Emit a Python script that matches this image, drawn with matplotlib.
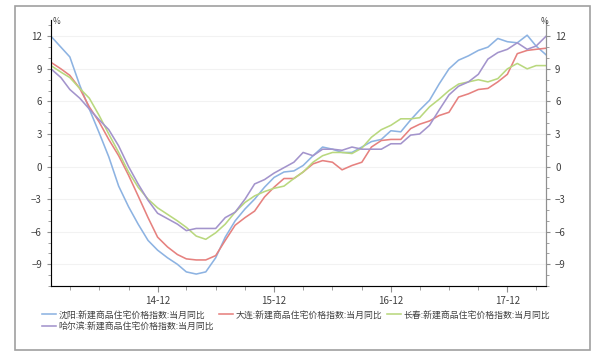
import numpy as np
import pandas as pd
import matplotlib
matplotlib.use("Agg")
import matplotlib.pyplot as plt
import matplotlib.dates as mdates
from matplotlib.patches import Rectangle

plt.rcParams['font.family'] = ['Noto Sans CJK SC', 'DejaVu Sans']

# monthly data, 2014-01 .. 2018-04
months = pd.date_range('2014-01-01', periods=52, freq='MS')

shenyang = [12.0, 11.0, 10.1, 7.5, 5.3, 3.1, 0.9, -1.8, -3.7, -5.3, -6.8, -7.7,
            -8.4, -9.0, -9.7, -9.9, -9.7, -8.4, -6.5, -5.0, -3.9, -3.0, -1.9, -1.0,
            -0.5, -0.4, 0.1, 1.0, 1.8, 1.6, 1.3, 1.3, 1.8, 2.3, 2.5, 3.3,
            3.2, 4.3, 5.2, 6.1, 7.6, 9.0, 9.8, 10.2, 10.7, 11.0, 11.8, 11.5,
            11.4, 12.1, 11.1, 10.3]
dalian = [9.6, 9.0, 8.4, 7.2, 5.5, 4.1, 2.5, 1.0, -0.8, -2.7, -4.7, -6.5,
          -7.4, -8.1, -8.5, -8.6, -8.6, -8.2, -6.8, -5.4, -4.7, -4.1, -2.8, -1.9,
          -1.1, -1.1, -0.5, 0.25, 0.55, 0.4, -0.3, 0.1, 0.4, 1.8, 2.4, 2.5,
          2.5, 3.5, 3.9, 4.2, 4.7, 5.0, 6.4, 6.7, 7.1, 7.2, 7.8, 8.5,
          10.4, 10.7, 10.8, 10.9]
changchun = [9.3, 8.7, 8.2, 7.2, 6.3, 4.7, 3.0, 1.3, -0.5, -1.9, -3.0, -3.8,
             -4.4, -5.0, -5.6, -6.4, -6.7, -6.1, -5.3, -4.2, -3.3, -2.7, -2.3, -2.0,
             -1.8, -1.1, -0.5, 0.4, 1.0, 1.3, 1.3, 1.2, 1.7, 2.7, 3.4, 3.8,
             4.4, 4.4, 4.5, 5.5, 6.2, 7.0, 7.6, 7.8, 8.0, 7.8, 8.1, 9.0,
             9.5, 9.0, 9.3, 9.3]
harbin = [9.0, 8.2, 7.1, 6.3, 5.3, 4.3, 3.4, 1.9, 0.0, -1.6, -3.1, -4.3,
          -4.8, -5.3, -5.9, -5.7, -5.7, -5.7, -4.7, -4.2, -3.0, -1.6, -1.2, -0.6,
          -0.1, 0.4, 1.3, 1.0, 1.6, 1.6, 1.5, 1.8, 1.6, 1.6, 1.6, 2.1,
          2.1, 2.9, 3.0, 3.8, 5.2, 6.6, 7.4, 7.8, 8.5, 9.9, 10.5, 10.8,
          11.4, 10.8, 11.1, 12.0]

labels = ['沈阳:新建商品住宅价格指数:当月同比', '大连:新建商品住宅价格指数:当月同比',
          '长春:新建商品住宅价格指数:当月同比', '哈尔滨:新建商品住宅价格指数:当月同比']
colors = ['#8DB3E2', '#E6817F', '#B9D87E', '#A394CC']
yticks = [-9, -6, -3, 0, 3, 6, 9, 12]

fig = plt.figure(figsize=(6, 3.59), dpi=100)
fig.patches.append(Rectangle((15/600, 1-350/359), 575/600, 344/359,
                             transform=fig.transFigure, fill=False,
                             edgecolor='#a0a0a0', linewidth=1.2))

ax = fig.add_axes([51/600, 1-286/359, 495/600, 266/359])
lines = []
for s, c, lab in zip([shenyang, dalian, changchun, harbin], colors, labels):
    l, = ax.plot(months, s, color=c, linewidth=1.15, label=lab)
    lines.append(l)

ax.set_xlim(months[0], months[-1])
ax.set_ylim(-11, 13.5)
ax.set_yticks(yticks)
ax.yaxis.set_minor_locator(plt.MultipleLocator(1))
ax.xaxis.set_major_locator(mdates.MonthLocator(bymonth=12))
ax.xaxis.set_minor_locator(mdates.MonthLocator(bymonth=[3, 6, 9]))
ax.xaxis.set_major_formatter(mdates.DateFormatter('%y-%m'))
ax.grid(axis='y', color='#f2f2f2', linewidth=0.8)
ax.set_axisbelow(True)

ax.spines['top'].set_visible(False)
for side in ['left', 'right', 'bottom']:
    ax.spines[side].set_color('#909090')
ax.tick_params(axis='both', which='both', colors='#909090', labelcolor='#404040',
               labelsize=7, direction='out')
ax.tick_params(axis='y', which='major', length=3)
ax.tick_params(axis='y', which='minor', length=2)
ax.tick_params(axis='x', which='major', length=4, pad=3)
ax.tick_params(axis='x', which='minor', length=3)

ax2 = ax.twinx()
ax2.set_ylim(ax.get_ylim())
ax2.set_yticks(yticks)
ax2.yaxis.set_minor_locator(plt.MultipleLocator(1))
ax2.spines['top'].set_visible(False)
ax2.spines['right'].set_color('#909090')
ax2.tick_params(axis='y', which='both', colors='#909090', labelcolor='#404040',
                labelsize=7, direction='out')
ax2.tick_params(axis='y', which='major', length=3)
ax2.tick_params(axis='y', which='minor', length=2)

fig.text(53/600, 1-22/359, '%', fontsize=6, color='#404040', ha='left', va='center')
fig.text(541/600, 1-22/359, '%', fontsize=6, color='#404040', ha='left', va='center')

# row-major order for a 3-column legend
order = [0, 3, 1, 2]
fig.legend(handles=[lines[i] for i in order], loc='upper left',
           bbox_to_anchor=(38/600, 1-307/359),
           ncol=3, frameon=False, fontsize=6.4, handlelength=1.6, handletextpad=0.3,
           columnspacing=0.5, labelspacing=0.25, borderaxespad=0,
           labelcolor='#404040')

fig.savefig('out.png', dpi=100)
